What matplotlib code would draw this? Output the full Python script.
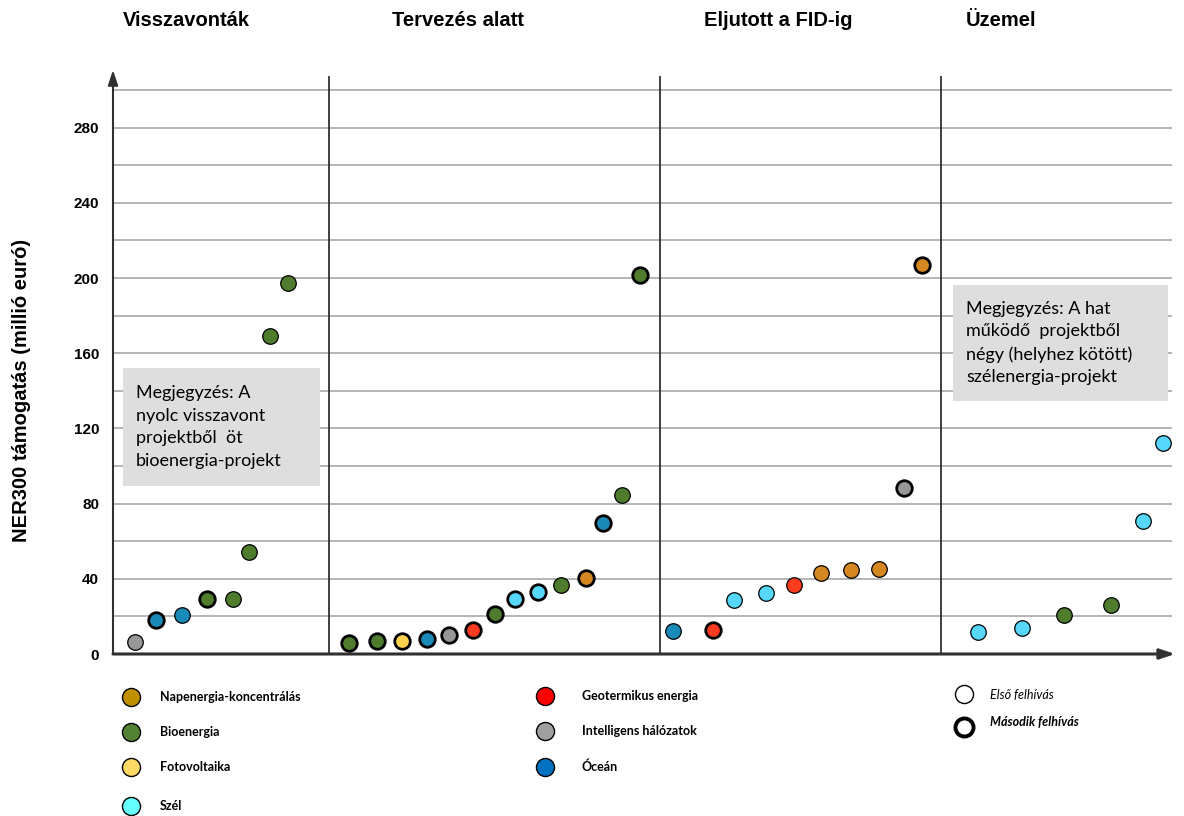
import matplotlib
matplotlib.use("Agg")
import matplotlib.pyplot as plt
from matplotlib.lines import Line2D

# ---------------- data ----------------
panel_titles = ["Visszavonták", "Tervezés alatt", "Eljutott a FID-ig", "Üzemel"]

# technology codes: CSP, BIO, PV, WIND, GEO, GRID, OCEAN
p1_tech = ["GRID", "OCEAN", "OCEAN", "BIO", "BIO", "BIO", "BIO", "BIO"]
p1_vals = [6.5, 18, 21, 29, 29, 54, 169, 197.5]
p1_call = [1, 2, 1, 2, 1, 1, 1, 1]
p1_x = [22, 43, 69, 94, 120, 136, 157, 175]

p2_tech = ["BIO", "BIO", "PV", "OCEAN", "GRID", "GEO", "BIO", "WIND", "WIND", "BIO",
           "CSP", "OCEAN", "BIO", "BIO"]
p2_vals = [6.0, 7.1, 6.9, 7.8, 10.1, 12.8, 21.3, 29.1, 33.2, 36.5, 40.6, 69.9, 84.6, 201.5]
p2_call = [2, 2, 2, 2, 2, 2, 2, 2, 2, 1, 2, 2, 1, 2]
p2_x = [236, 264, 289, 314, 336, 360, 382, 402, 425, 448, 473, 490, 509, 527]

p3_tech = ["OCEAN", "GEO", "WIND", "WIND", "GEO", "CSP", "CSP", "CSP", "GRID", "CSP"]
p3_vals = [12.4, 12.8, 28.7, 32.3, 36.5, 42.9, 44.7, 45.2, 88.1, 207]
p3_call = [1, 2, 1, 1, 1, 1, 1, 1, 2, 2]
p3_x = [560, 600, 621, 653, 681, 708, 738, 766, 791, 809]

p4_tech = ["WIND", "WIND", "BIO", "BIO", "WIND", "WIND"]
p4_vals = [11.9, 13.8, 20.9, 25.9, 70.9, 112.1]
p4_call = [1, 1, 1, 1, 1, 1]
p4_x = [865, 909, 951, 998, 1030, 1050]

divider_x = [216, 547, 828]

legend_col1 = ["CSP", "BIO", "PV", "WIND"]
legend_col2 = ["GEO", "GRID", "OCEAN"]
tech_labels = {
    "CSP": "Napenergia-koncentrálás", "BIO": "Bioenergia", "PV": "Fotovoltaika",
    "WIND": "Szél", "GEO": "Geotermikus energia", "GRID": "Intelligens hálózatok",
    "OCEAN": "Óceán",
}
call_labels = ["Első felhívás", "Második felhívás"]

y_ticks = [0, 40, 80, 120, 160, 200, 240, 280]
y_grid = list(range(20, 301, 20))
y_label = "NER300 támogatás (millió euró)"

note1 = "Megjegyzés: A\nnyolc visszavont\nprojektből  öt\nbioenergia-projekt"
note2 = "Megjegyzés: A hat\nműködő  projektből\nnégy (helyhez kötött)\nszélenergia-projekt"

# ---------------- styles ----------------
point_colors = {
    "CSP": "#d4881f", "BIO": "#4f7c2d", "PV": "#ffd24f", "WIND": "#57d8fa",
    "GEO": "#ff3c1f", "GRID": "#979797", "OCEAN": "#1a8bb9",
}
legend_colors = {
    "CSP": "#bf9000", "BIO": "#548235", "PV": "#ffd966", "WIND": "#66ffff",
    "GEO": "#ff0000", "GRID": "#a0a0a0", "OCEAN": "#0070c0",
}

W, H = 1184, 816
fig = plt.figure(figsize=(W / 100, H / 100), dpi=100)
ax_l, ax_r, ax_b, ax_t = 113, 1172, 654, 70
ax = fig.add_axes([ax_l / W, 1 - ax_b / H, (ax_r - ax_l) / W, (ax_b - ax_t) / H])
ax.set_xlim(0, ax_r - ax_l)
ax.set_ylim(0, (ax_b - ax_t) / 1.88)
for s in ax.spines.values():
    s.set_visible(False)
ax.set_xticks([])
ax.set_yticks(y_ticks)
ax.set_yticklabels([str(t) for t in y_ticks], fontsize=11, fontweight="bold",
                   family="Liberation Sans")
ax.tick_params(axis="y", length=0, pad=10)

for g in y_grid:
    ax.axhline(g, color="#a8a8a8", lw=1.2, zorder=1)

for dx in divider_x:
    ax.plot([dx, dx], [0, 307], color="#303030", lw=1.3, zorder=2, clip_on=False)

# axes with arrows
ax.annotate("", xy=(1.003, 0), xytext=(0, 0), xycoords="axes fraction",
            arrowprops=dict(arrowstyle="-|>,head_length=0.9,head_width=0.3",
                            color="#303030", lw=2.2, shrinkA=0, shrinkB=0), zorder=3)
ax.annotate("", xy=(0, 1.0), xytext=(0, 0), xycoords="axes fraction",
            arrowprops=dict(arrowstyle="-|>,head_length=0.9,head_width=0.3",
                            color="#303030", lw=1.5, shrinkA=0, shrinkB=0), zorder=3)

for xs, vs, ts, cs in [(p1_x, p1_vals, p1_tech, p1_call), (p2_x, p2_vals, p2_tech, p2_call),
                       (p3_x, p3_vals, p3_tech, p3_call), (p4_x, p4_vals, p4_tech, p4_call)]:
    for x, v, t, c in zip(xs, vs, ts, cs):
        ax.scatter([x], [v], s=125, color=point_colors[t], edgecolor="black",
                   linewidth=2.0 if c == 2 else 0.9, zorder=5, clip_on=False)

fig.text(22 / W, 1 - 390 / H, y_label, rotation=90, ha="center", va="center",
         fontsize=14.5, fontweight="bold", family="Liberation Sans")

title_x = [123, 392, 704, 966]
for tx, tt in zip(title_x, panel_titles):
    fig.text(tx / W, 1 - 20 / H, tt, ha="left", va="center", fontsize=14.5,
             fontweight="bold", family="Liberation Sans")

def note(x0, y0, x1, y1, txt):
    fig.patches.append(plt.Rectangle((x0 / W, 1 - y1 / H), (x1 - x0) / W, (y1 - y0) / H,
                                     transform=fig.transFigure, facecolor="#dedede",
                                     edgecolor="none", zorder=6))
    fig.text((x0 + 13) / W, 1 - (y0 + y1) / 2 / H, txt, ha="left", va="center",
             fontsize=13, linespacing=1.5, family="Lato", zorder=7)

note(123, 368, 320, 486, note1)
note(953, 285, 1168, 401, note2)

def leg_marker(x, y, fc, lw):
    fig.add_artist(Line2D([x / W], [1 - y / H], marker="o", markersize=13,
                          markerfacecolor=fc, markeredgecolor="black",
                          markeredgewidth=lw, linestyle="none",
                          transform=fig.transFigure))

for i, t in enumerate(legend_col1):
    y = [697, 732, 767, 806][i]
    leg_marker(131, y, legend_colors[t], 1.0)
    fig.text(160 / W, 1 - y / H, tech_labels[t], ha="left", va="center",
             fontsize=9, fontweight="bold", family="Lato")
for i, t in enumerate(legend_col2):
    y = [696, 731, 767][i]
    leg_marker(545, y, legend_colors[t], 1.0)
    fig.text(582 / W, 1 - y / H, tech_labels[t], ha="left", va="center",
             fontsize=9, fontweight="bold", family="Lato")

leg_marker(964, 694, "white", 1.0)
leg_marker(964, 727, "white", 2.8)
fig.text(990 / W, 1 - 695 / H, call_labels[0], ha="left", va="center",
         fontsize=9, style="italic", family="Lato")
fig.text(990 / W, 1 - 722 / H, call_labels[1], ha="left", va="center",
         fontsize=9, style="italic", fontweight="bold", family="Lato")

fig.savefig("out.png", dpi=100)
